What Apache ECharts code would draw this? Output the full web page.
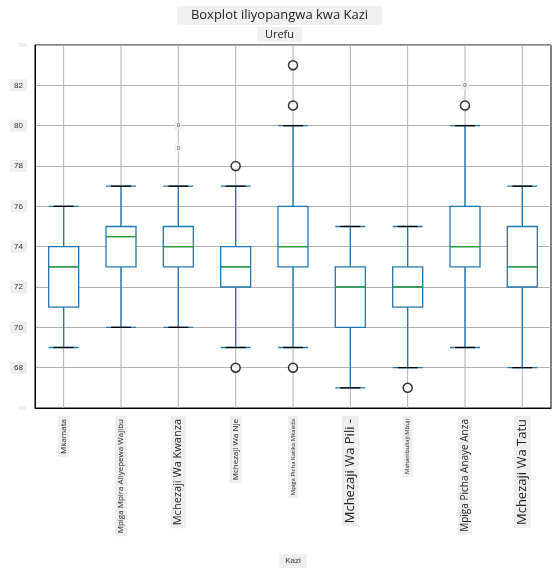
<!DOCTYPE html>
<html><head><meta charset="utf-8">
<script src="https://cdn.jsdelivr.net/npm/echarts@6/dist/echarts.min.js"></script>
<style>body{margin:0}#c{width:559px;height:573px}</style></head>
<body><div id="c"></div>
<script>
const categories=["Mkamata","Mpiga Mpira Aliyepewa Wajibu","Mchezaji Wa Kwanza","Mchezaji Wa Nje","Mpiga Picha Katika Mkaeda","Mchezaji Wa Pili -","Mshambuliaji Mbuji","Mpiga Picha Anaye Anza","Mchezaji Wa Tatu"];
const boxes=[[69,71,73,74,76],[70,73,74.5,75,77],[70,73,74,75,77],[69,72,73,74,77],[69,73,74,76,80],[67,70,72,73,75],[68,71,72,73,75],[69,73,74,76,80],[68,72,73,75,77]];
const outliers=[[3,78],[3,68],[4,83],[4,81],[4,68],[6,67],[7,81]];
const smallMarks=[[2,80],[2,78.9],[7,82]];
const labelSizes=[8,8,11,8,6,13,6,10,13];
const yTicks=[68,70,72,74,76,78,80,82];
const rich={};labelSizes.forEach((s,i)=>{rich['s'+i]={fontSize:s,backgroundColor:'#eeeeee',padding:[2,3],color:'#222'};});
const chart=echarts.init(document.getElementById('c'));
chart.setOption({
 animation:false,
 title:[{text:'Boxplot iliyopangwa kwa Kazi',left:'center',top:6,textStyle:{fontSize:13,fontWeight:'normal',color:'#222',fontFamily:'Open Sans'},backgroundColor:'#f0f0f0',padding:[3,14]},
 {text:'Urefu',left:'center',top:27,textStyle:{fontSize:11,fontWeight:'normal',color:'#222',fontFamily:'Open Sans'},backgroundColor:'#f0f0f0',padding:[2,8]}],
 grid:{left:35,right:8,top:45,bottom:160,show:true,borderColor:'#000',borderWidth:1},
 xAxis:{type:'category',data:categories,boundaryGap:true,name:'Kazi',nameLocation:'middle',nameGap:146,
  nameTextStyle:{fontSize:8,color:'#333',backgroundColor:'#eeeeee',padding:[3,6]},
  axisLine:{lineStyle:{color:'#000'}},axisTick:{alignWithLabel:true,lineStyle:{color:'#000'}},
  splitLine:{show:false},
  axisLabel:{rotate:90,interval:0,fontFamily:'Open Sans',formatter:(v,i)=>'{s'+i+'|'+v+'}',rich:rich}},
 yAxis:{type:'value',min:66,max:84,interval:2,
  axisLabel:{fontSize:8,color:'#333',backgroundColor:'#eeeeee',padding:[2,4],formatter:v=>yTicks.includes(v)?String(v):''},
  axisLine:{show:true,lineStyle:{color:'#000'}},axisTick:{show:false},
  splitLine:{lineStyle:{color:'#b0b0b0'}}},
 series:[
  {type:'custom',z:1,silent:true,data:categories.map((c,i)=>[i]),renderItem:(p,api)=>{
    const a=api.coord([api.value(0),84]),b=api.coord([api.value(0),66]);
    return {type:'line',shape:{x1:a[0],y1:a[1],x2:b[0],y2:b[1]},style:{stroke:'#b0b0b0',lineWidth:1}};}},
  {type:'boxplot',data:boxes,boxWidth:[30,30],itemStyle:{color:'#fff',borderColor:'#1f77b4',borderWidth:1.3},z:3},
  {type:'custom',z:5,data:boxes.map((b,i)=>[i,b[2]]),renderItem:(p,api)=>{
    const c=api.coord([api.value(0),api.value(1)]);
    return {type:'line',shape:{x1:c[0]-15,y1:c[1],x2:c[0]+15,y2:c[1]},style:{stroke:'#2ca02c',lineWidth:1.3}};}},
  {type:'custom',z:4,data:boxes.map((b,i)=>[i,b[0],b[4]]),renderItem:(p,api)=>{
    const a=api.coord([api.value(0),api.value(1)]),b=api.coord([api.value(0),api.value(2)]);
    return {type:'group',children:[
     {type:'line',shape:{x1:a[0]-10,y1:a[1],x2:a[0]+10,y2:a[1]},style:{stroke:'#000',lineWidth:1.3}},
     {type:'line',shape:{x1:b[0]-10,y1:b[1],x2:b[0]+10,y2:b[1]},style:{stroke:'#000',lineWidth:1.3}}]};}},
  {type:'scatter',data:outliers,symbol:'circle',symbolSize:9,itemStyle:{color:'#fff',borderColor:'#000',borderWidth:1.5},z:6},
  {type:'scatter',data:smallMarks,symbol:'rect',symbolSize:[7,8],itemStyle:{color:'#eeeeee',borderColor:'#eeeeee'},
   label:{show:true,position:'inside',formatter:'0',fontSize:6,color:'#333'},z:6}
 ]
});
</script></body></html>
